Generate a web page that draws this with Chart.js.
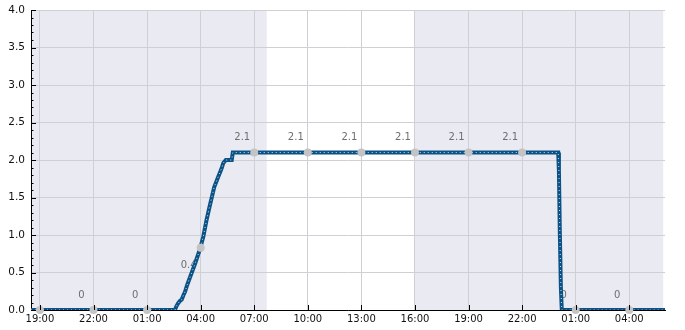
<!DOCTYPE html>
<html>
<head>
<meta charset="utf-8">
<script src="https://cdn.jsdelivr.net/npm/chart.js@4"></script>
<style>
  html, body { margin: 0; padding: 0; background: #fff; }
  #wrap { width: 685px; height: 330px; position: relative; }
</style>
</head>
<body>
<div id="wrap"><canvas id="chart"></canvas></div>
<script>
// hours counted from 00:00 of the first day
const xMin = 18.5;
const xMax = 54.0;
const tickHours = [19, 22, 25, 28, 31, 34, 37, 40, 43, 46, 49, 52];
const tickLabels = ['19:00', '22:00', '01:00', '04:00', '07:00', '10:00', '13:00', '16:00', '19:00', '22:00', '01:00', '04:00'];

// the measured curve
const lineHours = [18.5, 26.56, 26.64, 26.74, 26.84, 26.94, 27.04, 27.12, 27.24, 27.41, 27.55, 27.69, 27.83, 27.96, 28.15, 28.33, 28.52, 28.76, 28.99, 29.16, 29.27, 29.41, 29.74, 29.80, 29.92, 48.02, 48.06, 48.11, 48.17, 48.22, 54.0];
const lineValues = [0, 0, 0.05, 0.09, 0.12, 0.14, 0.20, 0.24, 0.33, 0.44, 0.53, 0.62, 0.72, 0.81, 0.98, 1.20, 1.40, 1.64, 1.78, 1.88, 1.96, 2.0, 2.0, 2.1, 2.1, 2.1, 1.85, 1.05, 0.3, 0, 0];

// samples at each tick and the value labels shown next to them
const sampleValues = [0, 0, 0, 0.83, 2.1, 2.1, 2.1, 2.1, 2.1, 2.1, 0, 0];
const labelValues = [null, 0, 0, 0.4, 2.1, 2.1, 2.1, 2.1, 2.1, 2.1, 0, 0];

// shaded parts of the background
const shadeFrom = [18.5, 40];
const shadeTo = [31.7, 53.9];

const FONT = 'DejaVu Sans';

const bgPlugin = {
  id: 'bg',
  beforeDraw(chart) {
    const {ctx, chartArea: a, scales: {x}} = chart;
    ctx.save();
    ctx.fillStyle = '#eaeaf2';
    shadeFrom.forEach((f, i) => {
      const x0 = x.getPixelForValue(f);
      const x1 = x.getPixelForValue(shadeTo[i]);
      ctx.fillRect(x0, a.top, x1 - x0, a.bottom - a.top);
    });
    ctx.restore();
  }
};

const labelPlugin = {
  id: 'vlabels',
  beforeDatasetsDraw(chart) {
    const {ctx, scales: {x, y}} = chart;
    ctx.save();
    ctx.font = '10px "' + FONT + '"';
    ctx.fillStyle = '#6e6e6e';
    ctx.textAlign = 'center';
    ctx.textBaseline = 'middle';
    labelValues.forEach((v, i) => {
      if (v === null) return;
      ctx.fillText(String(v), x.getPixelForValue(tickHours[i]) - 12, y.getPixelForValue(v) - 15);
    });
    ctx.restore();
  }
};

const tickPlugin = {
  id: 'inticks',
  afterDraw(chart) {
    const {ctx, chartArea: a, scales: {x, y}} = chart;
    ctx.save();
    ctx.strokeStyle = '#000';
    ctx.lineWidth = 1;
    ctx.beginPath();
    for (let i = 0; i <= 40; i++) {
      const py = Math.round(y.getPixelForValue(i / 10)) + 0.5;
      const len = i % 5 === 0 ? 5 : 2.5;
      ctx.moveTo(a.left, py);
      ctx.lineTo(a.left + len, py);
    }
    tickHours.forEach(h => {
      const px = Math.round(x.getPixelForValue(h)) + 0.5;
      ctx.moveTo(px, a.bottom);
      ctx.lineTo(px, a.bottom - 5);
    });
    ctx.stroke();
    ctx.restore();
  }
};

const linePoints = lineHours.map((h, i) => ({x: h, y: lineValues[i]}));

new Chart(document.getElementById('chart'), {
  type: 'line',
  data: {
    datasets: [
      {
        data: tickHours.map((h, i) => ({x: h, y: sampleValues[i]})),
        showLine: false,
        pointRadius: 4,
        pointBackgroundColor: '#c4c4c4',
        pointBorderWidth: 0,
        clip: false,
      },
      {
        data: linePoints,
        borderColor: 'rgba(215,228,240,0.95)',
        borderWidth: 1,
        borderDash: [1, 3],
        pointRadius: 0,
      },
      {
        data: linePoints,
        borderColor: '#0a5286',
        borderWidth: 4,
        pointRadius: 0,
      },
    ],
  },
  options: {
    responsive: true,
    maintainAspectRatio: false,
    animation: false,
    layout: {padding: {top: 10, right: 20, left: 0, bottom: 0}},
    plugins: {legend: {display: false}, tooltip: {enabled: false}},
    scales: {
      x: {
        type: 'linear',
        min: xMin,
        max: xMax,
        afterBuildTicks(scale) { scale.ticks = tickHours.map(v => ({value: v})); },
        afterFit(scale) { scale.height = 20; scale.paddingLeft = 0; scale.paddingRight = 0; },
        grid: {color: '#cfcfd4', drawTicks: false},
        border: {display: true, color: '#000', width: 1},
        ticks: {
          padding: 3,
          color: '#111',
          font: {family: FONT, size: 10},
          maxRotation: 0,
          autoSkip: false,
          callback: (v, i) => tickLabels[i],
        },
      },
      y: {
        min: 0,
        max: 4,
        afterFit(scale) { scale.width = 31; scale.paddingTop = 0; scale.paddingBottom = 0; },
        grid: {color: '#cfcfd4', drawTicks: false},
        border: {display: true, color: '#000', width: 1},
        ticks: {
          stepSize: 0.5,
          padding: 6,
          color: '#111',
          font: {family: FONT, size: 10.5},
          callback: v => v.toFixed(1),
        },
      },
    },
  },
  plugins: [bgPlugin, labelPlugin, tickPlugin],
});
</script>
</body>
</html>
